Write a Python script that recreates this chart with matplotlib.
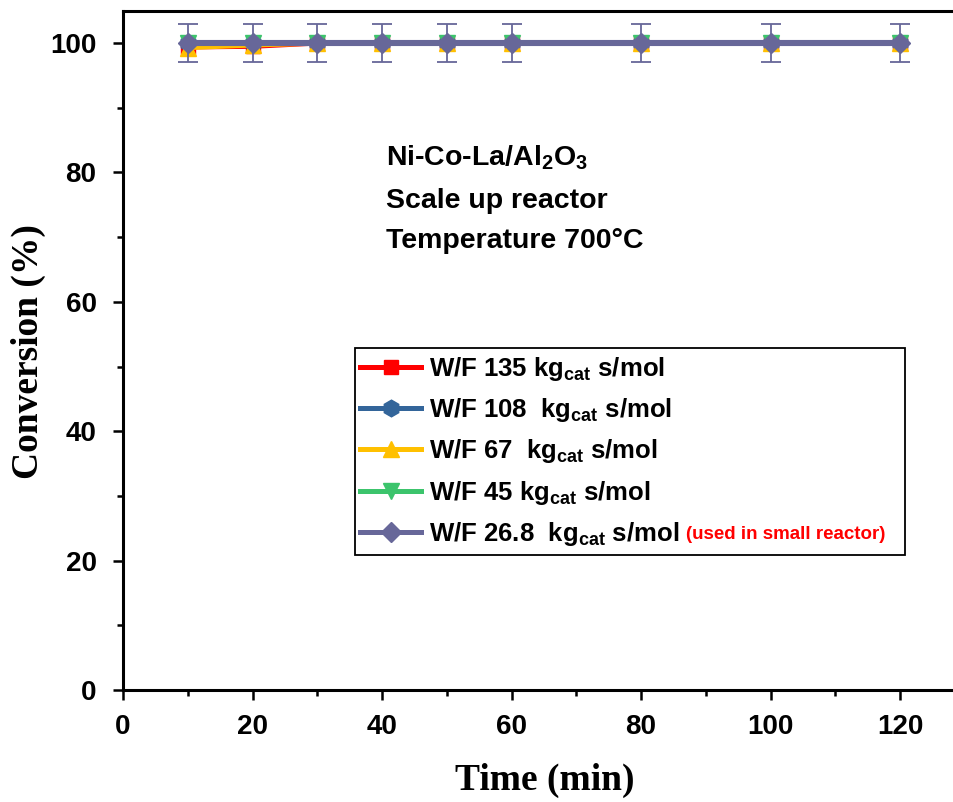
import matplotlib
matplotlib.use('Agg')
import matplotlib.pyplot as plt
from matplotlib.ticker import MultipleLocator
from matplotlib.lines import Line2D
from matplotlib.patches import Rectangle

plt.rcParams['mathtext.fontset'] = 'custom'
plt.rcParams['mathtext.rm'] = 'Liberation Sans:bold'
plt.rcParams['mathtext.bf'] = 'Liberation Sans:bold'
plt.rcParams['mathtext.it'] = 'Liberation Sans:bold'

# 时间点 (min)
time = [10, 20, 30, 40, 50, 60, 80, 100, 120]
# 各 W/F 的转化率 (%)
conv_135 = [99.4, 99.5, 100, 100, 100, 100, 100, 100, 100]
conv_108 = [100, 100, 100, 100, 100, 100, 100, 100, 100]
conv_67 = [99.3, 99.7, 100, 100, 100, 100, 100, 100, 100]
conv_45 = [100, 100, 100, 100, 100, 100, 100, 100, 100]
conv_268 = [100, 100, 100, 100, 100, 100, 100, 100, 100]
err_268 = [3, 3, 3, 3, 3, 3, 3, 3, 3]

labels = [r'W/F 135 kg$_{\rm cat}$ s/mol',
          r'W/F 108  kg$_{\rm cat}$ s/mol',
          r'W/F 67  kg$_{\rm cat}$ s/mol',
          r'W/F 45 kg$_{\rm cat}$ s/mol',
          r'W/F 26.8  kg$_{\rm cat}$ s/mol']
colors = ['#ff0000', '#33659a', '#ffc000', '#3cc46c', '#676799']
markers = ['s', 'h', '^', 'v', 'D']

fig = plt.figure(figsize=(9.54, 8.02), dpi=100)
ax = fig.add_axes([0.1289, 0.1397, 0.8826, 0.8469])

lw = 3.6
ms = 12
series = [conv_135, conv_108, conv_67, conv_45]
for i in range(4):
    ax.plot(time, series[i], '-', marker=markers[i], color=colors[i], lw=lw,
            ms=ms * (0.85 if markers[i] == 's' else 1.0))
ax.errorbar(time, conv_268, yerr=err_268, fmt='-D', color=colors[4], lw=lw + 0.8, ms=ms*0.85,
            ecolor=colors[4], elinewidth=1.3, capsize=7, capthick=1.3)

ax.set_xlim(0, 130)
ax.set_ylim(0, 105)
ax.xaxis.set_major_locator(MultipleLocator(20))
ax.xaxis.set_minor_locator(MultipleLocator(10))
ax.yaxis.set_major_locator(MultipleLocator(20))
ax.yaxis.set_minor_locator(MultipleLocator(10))
ax.tick_params(which='major', direction='out', length=7, width=1.8)
ax.tick_params(which='minor', direction='out', length=4, width=1.8)
ax.tick_params(axis='x', pad=10)
ax.tick_params(axis='y', pad=12)
ax.tick_params(top=False, right=False)
for t in ax.get_xticklabels() + ax.get_yticklabels():
    t.set_fontfamily('Liberation Sans')
    t.set_fontweight('bold')
    t.set_fontsize(20)
for s in ax.spines.values():
    s.set_linewidth(2.2)

ax.set_xlabel('Time (min)', fontfamily='Liberation Serif', fontweight='bold', fontsize=27, va='center')
ax.set_ylabel('Conversion (%)', fontfamily='Liberation Serif', fontweight='bold', fontsize=27, va='center')
ax.xaxis.set_label_coords(0.501, -0.1325)
ax.yaxis.set_label_coords(-0.1128, 0.498)

txt = dict(fontfamily='Liberation Sans', fontweight='bold', fontsize=20.5, va='center')
ax.text(40.6, 82.2, r'Ni-Co-La/Al$_2$O$_3$', **txt)
ax.text(40.6, 75.6, 'Scale up reactor', **txt)
ax.text(40.6, 69.4, 'Temperature 700°C', **txt)

# 图例（手动边框）
handles = [Line2D([], [], color=colors[i], marker=markers[i], lw=lw,
                  ms=ms * (0.85 if markers[i] in 'sD' else 1.0)) for i in range(5)]
ax.add_patch(Rectangle((0.2755, 0.1988), 0.6532, 0.3049, transform=ax.transAxes,
                       facecolor='white', edgecolor='black', lw=1.3, zorder=4))
leg = ax.legend(handles, labels, loc='upper left', bbox_to_anchor=(0.272, 0.505), frameon=False,
                prop={'family': 'Liberation Sans', 'weight': 'bold', 'size': 18.5},
                handlelength=2.4, handletextpad=0.3, borderpad=0.3, labelspacing=0.52,
                borderaxespad=0)
leg.set_zorder(5)

fig.canvas.draw()
bb = leg.get_texts()[-1].get_window_extent()
W, H = fig.get_size_inches() * fig.dpi
fig.text((bb.x1 + 7) / W, (bb.y0 + 5) / H, '(used in small reactor)', color='#ff0000',
         fontfamily='Liberation Sans', fontweight='bold', fontsize=13.5, va='bottom', zorder=6)

fig.savefig('out.png', dpi=100)
